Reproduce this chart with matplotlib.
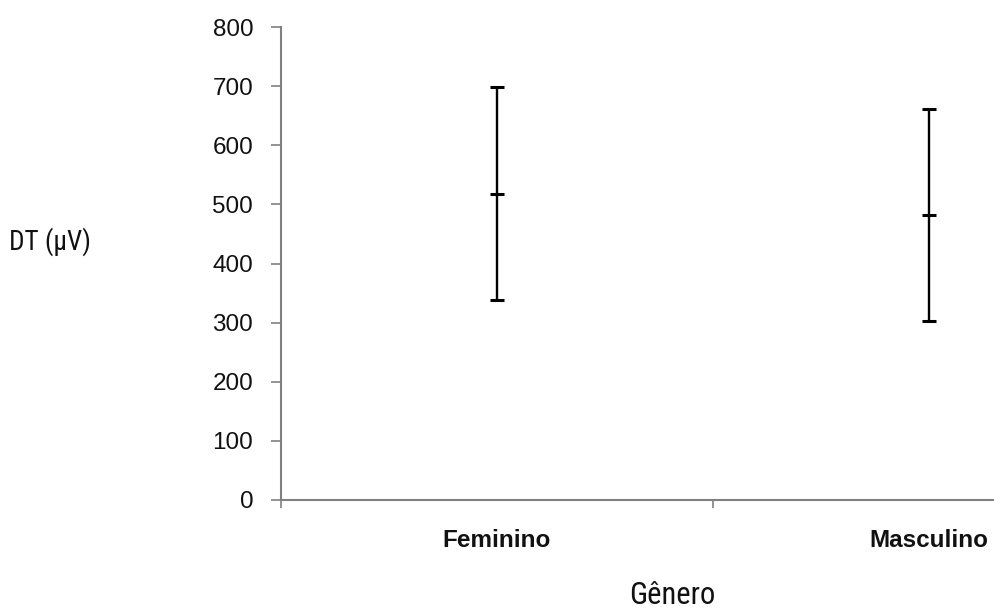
import matplotlib
matplotlib.use('Agg')
import matplotlib.pyplot as plt

# medias e desvios de DT por genero
generos = ['Feminino', 'Masculino']
medias = [518, 482]
desvios = [180, 179]
yticks = [0, 100, 200, 300, 400, 500, 600, 700, 800]

plt.rcParams['font.family'] = ['Liberation Sans', 'DejaVu Sans']

fig = plt.figure(figsize=(9.94, 6.10), dpi=100)
# eixo largo: a segunda metade da categoria da direita fica fora da figura
ax = fig.add_axes([281 / 994, 110 / 610, 864 / 994, 473 / 610])

pos = [i + 0.5 for i in range(len(generos))]
ax.errorbar(pos, medias, yerr=desvios, fmt='_', color='black', ecolor='black',
            markersize=10, markeredgewidth=2.2, elinewidth=1.7, capsize=4.8, capthick=1.8)

ax.set_xlim(0, 2)
ax.set_ylim(0, 800)
ax.set_yticks(yticks)
ax.set_xticks([0, 1, 2])
ax.set_xticklabels([])
ax.set_xticks(pos, minor=True)
ax.set_xticklabels(generos, minor=True, fontsize=17.5, fontweight='bold', color='#111111')
ax.tick_params(axis='x', which='minor', length=0, pad=21)
ax.tick_params(axis='x', which='major', length=6, color='#808080', width=1.2)
ax.tick_params(axis='y', length=7, color='#808080', width=1.2, labelsize=17.5,
               labelcolor='#111111', pad=13)

for s in ['top', 'right']:
    ax.spines[s].set_visible(False)
for s in ['left', 'bottom']:
    ax.spines[s].set_color('#808080')
    ax.spines[s].set_linewidth(1.5)

fig.text(50 / 994, 1 - 242 / 610, 'DT (µV)', fontsize=19.5, va='center', ha='center',
         family=['Roboto Condensed', 'DejaVu Sans'], color='#111111')
fig.text(672 / 994, 1 - 596 / 610, 'Gênero', fontsize=22, va='center', ha='center',
         family=['Roboto Condensed', 'DejaVu Sans'], color='#111111')

fig.savefig('out.png', dpi=100)
